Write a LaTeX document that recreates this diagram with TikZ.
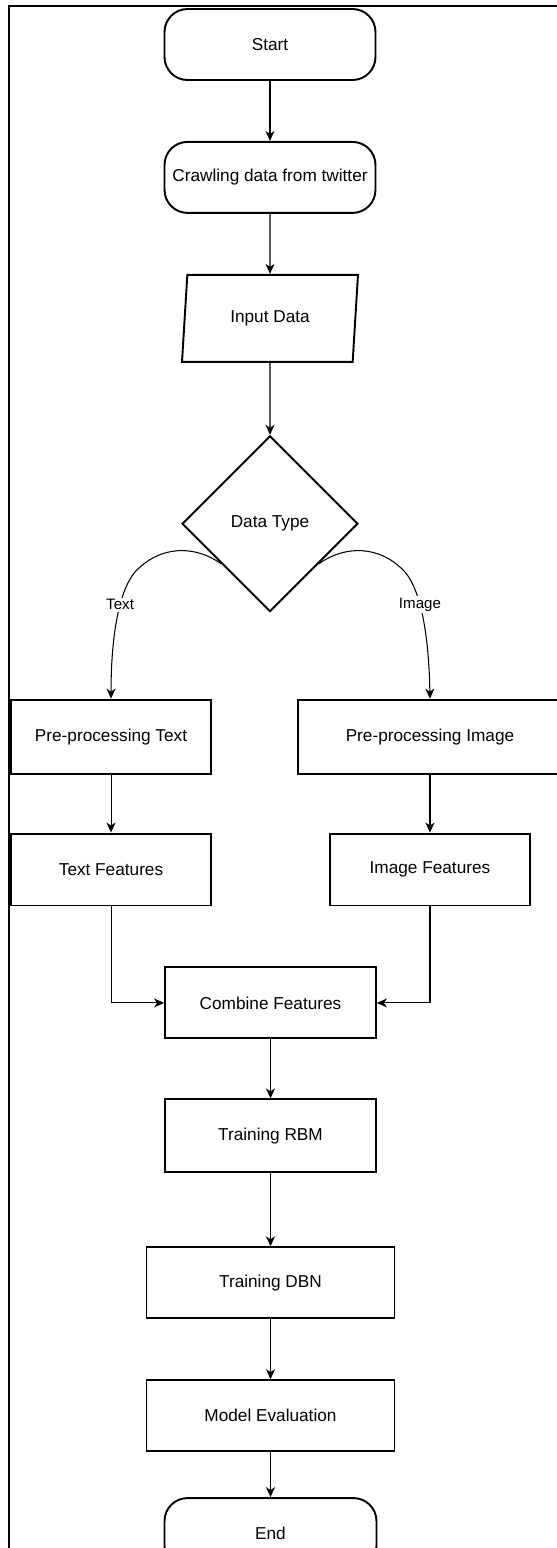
\documentclass[tikz,border=0pt]{standalone}
\usepackage{fontspec}
\setmainfont{Liberation Sans}
\usetikzlibrary{arrows.meta,calc,positioning,shapes.geometric}
\tikzset{
  terminal/.style={
    rounded corners=0.46cm, draw=black, line width=1.1pt, fill=white,
    minimum width=4.22cm, minimum height=1.42cm, align=center,
    font=\fontsize{9.8}{12}\selectfont
  },
  process/.style={
    draw=black, line width=1.1pt, fill=white,
    minimum width=4.22cm, minimum height=1.42cm, align=center,
    font=\fontsize{9.8}{12}\selectfont
  },
  io/.style={
    trapezium, trapezium left angle=71, trapezium right angle=109,
    trapezium stretches body, draw=black, line width=1.1pt, fill=white,
    minimum width=3.52cm, minimum height=1.74cm, inner sep=0pt,
    font=\fontsize{9.8}{12}\selectfont
  },
  decision/.style={
    diamond, draw=black, line width=1.1pt, fill=white,
    minimum width=3.52cm, minimum height=3.52cm, inner sep=0pt,
    font=\fontsize{9.8}{12}\selectfont
  },
  flow/.style={-{Stealth[length=2mm,width=1.8mm,inset=0.6mm]}, line width=0.6pt, draw=black},
  branch/.style={fill=white, inner sep=1pt, font=\fontsize{8.6}{10}\selectfont},
  frame/.style={line width=1.2pt, draw=black}
}

\begin{document}
\begin{tikzpicture}[x=0.02cm,y=-0.02cm,node distance=1.2cm]
    \useasboundingbox (0,0) rectangle (557,1548);
    \draw[frame] (9,1548) -- (9,6) -- (557,6);
    \node[terminal] (start) at (270,44.5) {Start};
    \node[terminal,below=of start] (crawl) {Crawling data from twitter};
    \node[io,below=of crawl] (input) {Input Data};
    \node[decision,below=1.44cm of input] (type) {Data Type};
    \node[process,minimum width=4cm,minimum height=1.48cm,below=1.72cm of type.south,xshift=-3.18cm] (pptext) {Pre-processing Text};
    \node[process,minimum width=5.28cm,minimum height=1.48cm,below=1.72cm of type.south,xshift=3.2cm] (ppimage) {Pre-processing Image};
    \node[process,minimum width=4cm,minimum height=1.44cm,below=1.16cm of pptext] (tfeat) {Text Features};
    \node[process,minimum width=4cm,minimum height=1.44cm,below=1.16cm of ppimage] (ifeat) {Image Features};
    \coordinate (mid) at ($(tfeat.south)!0.5!(ifeat.south)$);
    \node[process,below=of mid] (comb) {Combine Features};
    \node[process,minimum height=1.46cm,below=1.18cm of comb] (rbm) {Training RBM};
    \node[process,minimum width=4.96cm,below=1.46cm of rbm] (dbn) {Training DBN};
    \node[process,minimum width=4.96cm,below=of dbn] (eval) {Model Evaluation};
    \node[terminal,minimum width=4.24cm,below=0.9cm of eval] (end) {End};
    \draw[flow] (start)--(crawl);
    \draw[flow] (crawl)--(input);
    \draw[flow] (input)--(type);
    \draw[flow] ($(type.west)!0.45!(type.south)$) .. controls (195,545) and (160,545) .. (135,572)
      .. controls (118,592) and (111,640) .. node[branch,pos=0.37] {Text} (pptext.north);
    \draw[flow] ($(type.east)!0.45!(type.south)$) .. controls (345,545) and (380,545) .. (405,572)
      .. controls (422,592) and (429,640) .. node[branch,pos=0.37] {Image} (ppimage.north);
    \draw[flow] (pptext)--(tfeat);
    \draw[flow] (ppimage)--(ifeat);
    \draw[flow] (tfeat.south) |- (comb.west);
    \draw[flow] (ifeat.south) |- (comb.east);
    \draw[flow] (comb)--(rbm);
    \draw[flow] (rbm)--(dbn);
    \draw[flow] (dbn)--(eval);
    \draw[flow] (eval)--(end);
  \end{tikzpicture}
\end{document}
